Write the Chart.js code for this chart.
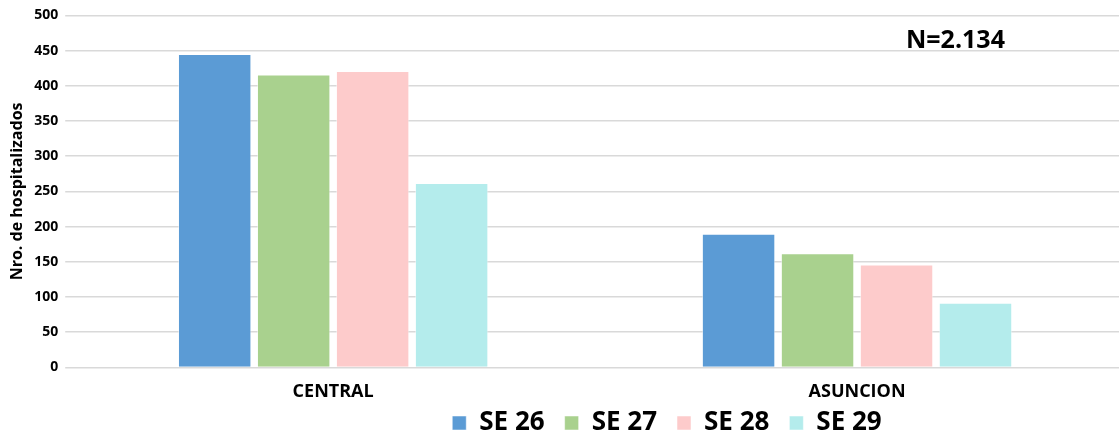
<!DOCTYPE html>
<html>
<head>
<meta charset="utf-8">
<script src="https://cdn.jsdelivr.net/npm/chart.js"></script>
<style>
  html, body { margin: 0; padding: 0; background: #fff; }
  #wrap { width: 1119px; height: 432px; position: relative; }
</style>
</head>
<body>
<div id="wrap"><canvas id="chart"></canvas></div>
<script>
const categories = ["CENTRAL", "ASUNCION"];
const seriesNames = ["SE 26", "SE 27", "SE 28", "SE 29"];
const se26 = [445, 190];
const se27 = [416, 162];
const se28 = [421, 146];
const se29 = [262, 92];
const colors = ["#5B9BD5", "#A9D18E", "#FDCBCB", "#B4ECEC"];
const totalLabel = "N=2.134";

const FONT = "'Open Sans', 'Noto Sans', sans-serif";

const nLabel = {
  id: "nLabel",
  afterDraw(chart) {
    const ctx = chart.ctx;
    ctx.save();
    ctx.font = "bold 25px " + FONT;
    ctx.fillStyle = "#000";
    ctx.textAlign = "left";
    ctx.textBaseline = "middle";
    ctx.fillText(totalLabel, 906, 41);
    ctx.restore();
  }
};

// the legend sits right of centre and closer to the axis labels in the original
const moveLegend = {
  id: "moveLegend",
  afterLayout(chart) {
    const lg = chart.legend;
    if (!lg) return;
    lg.left += 102;
    lg.right += 102;
    lg.top -= 19;
    lg.bottom -= 19;
  }
};

const values = [se26, se27, se28, se29];
new Chart(document.getElementById("chart"), {
  type: "bar",
  data: {
    labels: categories,
    datasets: seriesNames.map((name, i) => ({
      label: name,
      data: values[i],
      backgroundColor: colors[i],
      borderColor: "rgba(255,255,255,0.5)",
      borderWidth: 1,
      barPercentage: 0.93,
      categoryPercentage: 0.603
    }))
  },
  options: {
    responsive: true,
    maintainAspectRatio: false,
    animation: false,
    layout: { padding: { top: 9, right: -3, left: 8, bottom: -33 } },
    plugins: {
      legend: {
        position: "bottom",
        labels: {
          boxWidth: 14,
          boxHeight: 14,
          padding: 20,
          color: "#000",
          font: { family: FONT, size: 26, weight: "bold" }
        }
      },
      tooltip: { enabled: false }
    },
    scales: {
      x: {
        grid: { display: false },
        border: { display: false },
        ticks: { color: "#000", font: { family: FONT, size: 18, weight: "bold" }, padding: 6 }
      },
      y: {
        min: 0,
        max: 500,
        ticks: { stepSize: 50, color: "#000", font: { family: FONT, size: 14, weight: "bold" }, padding: 7 },
        grid: { color: "#d9d9d9", lineWidth: 1.5, drawTicks: true, tickLength: 6, tickColor: "#d9d9d9" },
        border: { display: false },
        title: {
          display: true,
          text: "Nro. de hospitalizados",
          color: "#000",
          font: { family: FONT, size: 16, weight: "bold" },
          padding: 0
        }
      }
    }
  },
  plugins: [nLabel, moveLegend]
});
</script>
</body>
</html>
